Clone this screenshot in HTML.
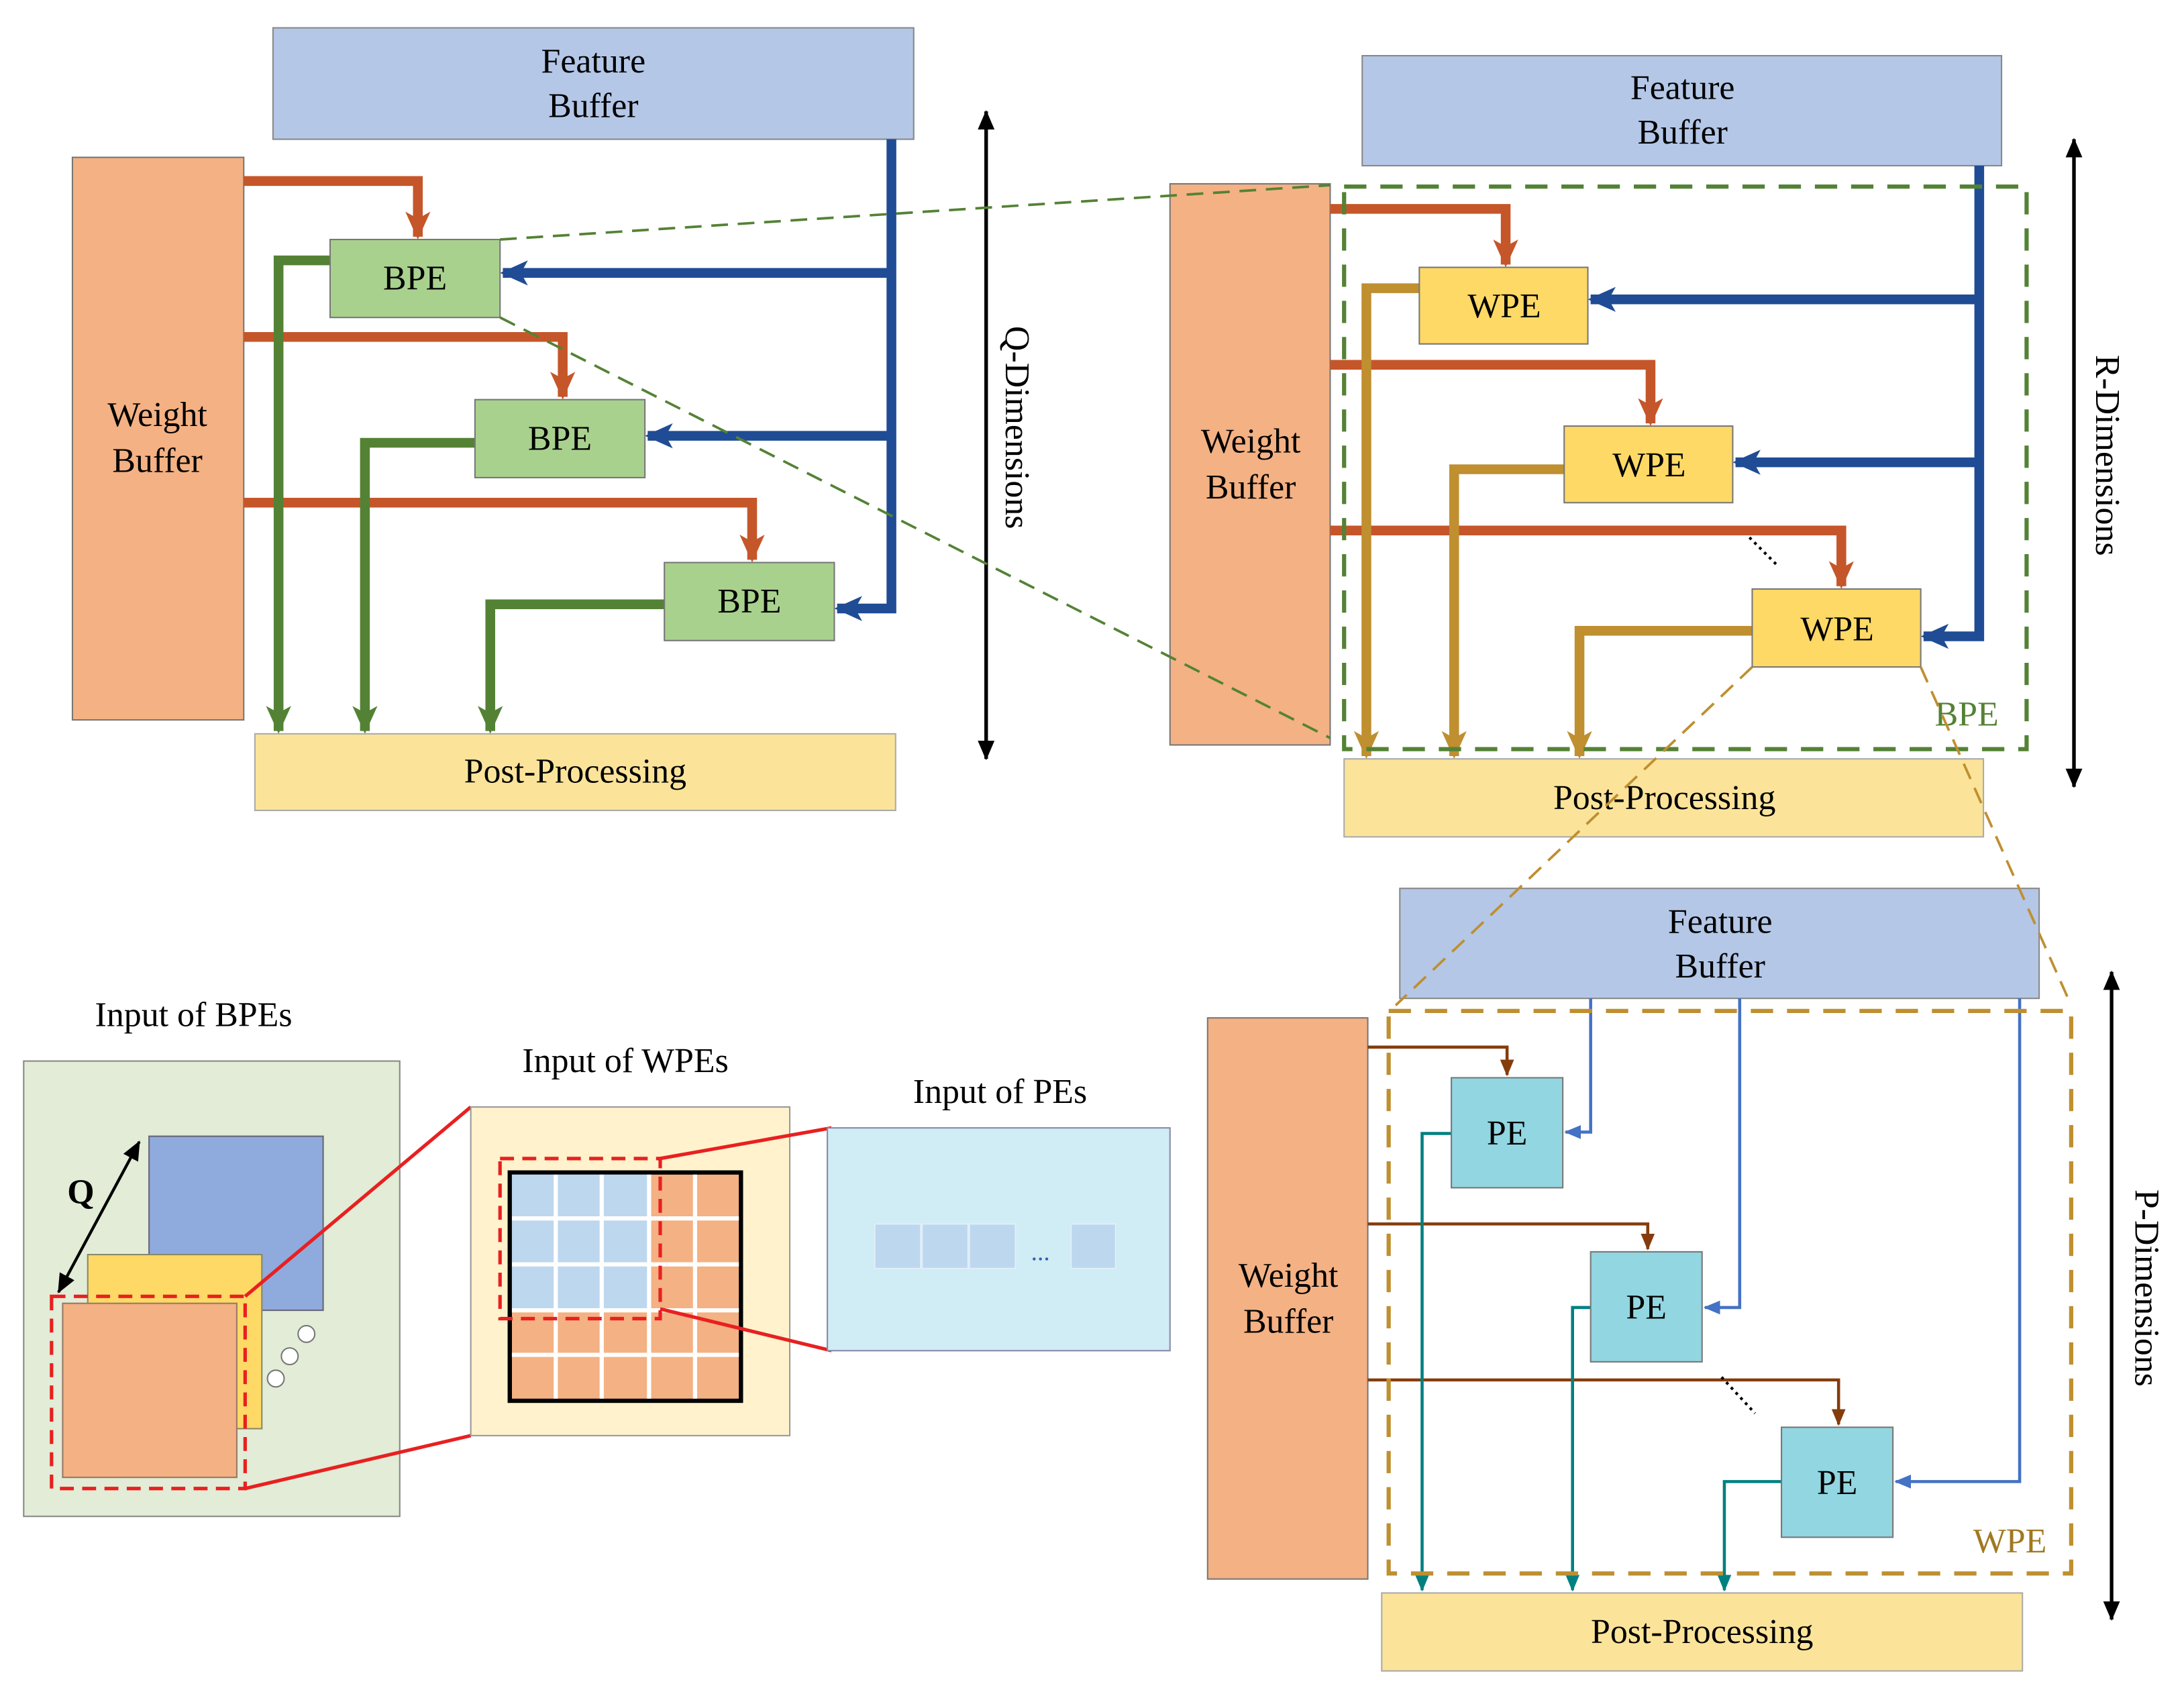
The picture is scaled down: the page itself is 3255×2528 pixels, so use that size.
<!DOCTYPE html>
<html><head><meta charset="utf-8"><style>html,body{margin:0;padding:0;background:#fff}svg{display:block}svg text{font-family:"Liberation Serif","DejaVu Serif",serif}</style></head>
<body>
<svg width="3255" height="2528" viewBox="0 0 1568 1218" preserveAspectRatio="none" xmlns="http://www.w3.org/2000/svg" style="font-family:'Liberation Serif',serif" font-size="25">
<defs>
<marker id="ao" markerUnits="userSpaceOnUse" markerWidth="20" markerHeight="20" refX="18" refY="10" orient="auto"><path d="M0,1 L20,10 L0,19 L5,10z" fill="#c5562a"/></marker>
<marker id="ab" markerUnits="userSpaceOnUse" markerWidth="20" markerHeight="20" refX="18" refY="10" orient="auto"><path d="M0,1 L20,10 L0,19 L5,10z" fill="#1f4c94"/></marker>
<marker id="ag" markerUnits="userSpaceOnUse" markerWidth="20" markerHeight="20" refX="18" refY="10" orient="auto"><path d="M0,1 L20,10 L0,19 L5,10z" fill="#548235"/></marker>
<marker id="ay" markerUnits="userSpaceOnUse" markerWidth="20" markerHeight="20" refX="18" refY="10" orient="auto"><path d="M0,1 L20,10 L0,19 L5,10z" fill="#bf8f30"/></marker>
<marker id="ar" markerUnits="userSpaceOnUse" markerWidth="12" markerHeight="12" refX="11" refY="6" orient="auto"><path d="M0,1 L12,6 L0,11z" fill="#843c0c"/></marker>
<marker id="al" markerUnits="userSpaceOnUse" markerWidth="12" markerHeight="12" refX="11" refY="6" orient="auto"><path d="M0,1 L12,6 L0,11z" fill="#4472c4"/></marker>
<marker id="at" markerUnits="userSpaceOnUse" markerWidth="12" markerHeight="12" refX="11" refY="6" orient="auto"><path d="M0,1 L12,6 L0,11z" fill="#008080"/></marker>
<marker id="ak" markerUnits="userSpaceOnUse" markerWidth="14" markerHeight="14" refX="13" refY="7" orient="auto"><path d="M0,1 L14,7 L0,13z" fill="#000"/></marker>
</defs>

<!-- ===== Top-left ===== -->
<rect x="196" y="20" width="460" height="80" fill="#b4c7e7" stroke="#888" stroke-width="1"/>
<text x="426" y="52" text-anchor="middle">Feature</text><text x="426" y="84" text-anchor="middle">Buffer</text>
<rect x="52" y="113" width="123" height="404" fill="#f4b183" stroke="#777" stroke-width="1"/>
<text x="113" y="306" text-anchor="middle">Weight</text><text x="113" y="339" text-anchor="middle">Buffer</text>
<rect x="183" y="527" width="460" height="55" fill="#fbe49a" stroke="#aaa" stroke-width="1"/>
<text x="413" y="562" text-anchor="middle">Post-Processing</text>
<g fill="none" stroke-width="7">
<path d="M175,130 H300 V170" stroke="#c5562a" marker-end="url(#ao)"/>
<path d="M175,242 H404 V285" stroke="#c5562a" marker-end="url(#ao)"/>
<path d="M175,361 H540 V402" stroke="#c5562a" marker-end="url(#ao)"/>
<path d="M640,100 V437 H601" stroke="#1f4c94" marker-end="url(#ab)"/>
<path d="M640,196 H361" stroke="#1f4c94" marker-end="url(#ab)"/>
<path d="M640,313 H465" stroke="#1f4c94" marker-end="url(#ab)"/>
<path d="M237,187 H200 V525" stroke="#548235" marker-end="url(#ag)"/>
<path d="M341,318 H262 V525" stroke="#548235" marker-end="url(#ag)"/>
<path d="M477,434 H352 V525" stroke="#548235" marker-end="url(#ag)"/>
</g>
<rect x="237" y="172" width="122" height="56" fill="#a9d18e" stroke="#777"/>
<text x="298" y="208" text-anchor="middle">BPE</text>
<rect x="341" y="287" width="122" height="56" fill="#a9d18e" stroke="#777"/>
<text x="402" y="323" text-anchor="middle">BPE</text>
<rect x="477" y="404" width="122" height="56" fill="#a9d18e" stroke="#777"/>
<text x="538" y="440" text-anchor="middle">BPE</text>
<path d="M708,80 V545" stroke="#000" stroke-width="2.5" marker-end="url(#ak)"/>
<path d="M708,545 V80" stroke="#000" stroke-width="2.5" marker-end="url(#ak)" fill="none"/>
<text transform="translate(722,307) rotate(90)" text-anchor="middle">Q-Dimensions</text>

<!-- ===== Top-right ===== -->
<rect x="978" y="40" width="459" height="79" fill="#b4c7e7" stroke="#888"/>
<text x="1208" y="71" text-anchor="middle">Feature</text><text x="1208" y="103" text-anchor="middle">Buffer</text>
<rect x="840" y="132" width="115" height="403" fill="#f4b183" stroke="#777"/>
<text x="898" y="325" text-anchor="middle">Weight</text><text x="898" y="358" text-anchor="middle">Buffer</text>
<rect x="965" y="545" width="459" height="56" fill="#fbe49a" stroke="#aaa"/>
<text x="1195" y="581" text-anchor="middle">Post-Processing</text>
<g fill="none" stroke-width="7">
<path d="M955,150 H1081 V190" stroke="#c5562a" marker-end="url(#ao)"/>
<path d="M955,262 H1185 V304" stroke="#c5562a" marker-end="url(#ao)"/>
<path d="M955,381 H1322 V421" stroke="#c5562a" marker-end="url(#ao)"/>
<path d="M1421,119 V457 H1381" stroke="#1f4c94" marker-end="url(#ab)"/>
<path d="M1421,215 H1142" stroke="#1f4c94" marker-end="url(#ab)"/>
<path d="M1421,332 H1246" stroke="#1f4c94" marker-end="url(#ab)"/>
<path d="M1019,207 H981 V543" stroke="#bf8f30" marker-end="url(#ay)"/>
<path d="M1123,337 H1044 V543" stroke="#bf8f30" marker-end="url(#ay)"/>
<path d="M1258,453 H1134 V543" stroke="#bf8f30" marker-end="url(#ay)"/>
</g>
<rect x="1019" y="192" width="121" height="55" fill="#ffd966" stroke="#777"/>
<text x="1080" y="228" text-anchor="middle">WPE</text>
<rect x="1123" y="306" width="121" height="55" fill="#ffd966" stroke="#777"/>
<text x="1184" y="342" text-anchor="middle">WPE</text>
<rect x="1258" y="423" width="121" height="56" fill="#ffd966" stroke="#777"/>
<text x="1319" y="460" text-anchor="middle">WPE</text>
<path d="M1256,386 L1276,406" stroke="#000" stroke-width="2" stroke-dasharray="2,3"/>
<rect x="965" y="134" width="490" height="404" fill="none" stroke="#548235" stroke-width="3" stroke-dasharray="16,10"/>
<text x="1412" y="521" text-anchor="middle" fill="#548235">BPE</text>
<path d="M1489,100 V565" stroke="#000" stroke-width="2.5" marker-end="url(#ak)"/>
<path d="M1489,565 V100" stroke="#000" stroke-width="2.5" marker-end="url(#ak)"/>
<text transform="translate(1505,327) rotate(90)" text-anchor="middle">R-Dimensions</text>

<!-- ===== Bottom-right ===== -->
<rect x="1005" y="638" width="459" height="79" fill="#b4c7e7" stroke="#888"/>
<text x="1235" y="670" text-anchor="middle">Feature</text><text x="1235" y="702" text-anchor="middle">Buffer</text>
<rect x="867" y="731" width="115" height="403" fill="#f4b183" stroke="#777"/>
<text x="925" y="924" text-anchor="middle">Weight</text><text x="925" y="957" text-anchor="middle">Buffer</text>
<rect x="992" y="1144" width="460" height="56" fill="#fbe49a" stroke="#aaa"/>
<text x="1222" y="1180" text-anchor="middle">Post-Processing</text>
<g fill="none" stroke-width="2.2">
<path d="M982,752 H1082 V772" stroke="#843c0c" marker-end="url(#ar)"/>
<path d="M982,879 H1183 V897" stroke="#843c0c" marker-end="url(#ar)"/>
<path d="M982,991 H1320 V1023" stroke="#843c0c" marker-end="url(#ar)"/>
<path d="M1142,717 V813 H1124" stroke="#4472c4" marker-end="url(#al)"/>
<path d="M1249,717 V939 H1224" stroke="#4472c4" marker-end="url(#al)"/>
<path d="M1450,717 V1064 H1361" stroke="#4472c4" marker-end="url(#al)"/>
<path d="M1042,814 H1021 V1142" stroke="#008080" marker-end="url(#at)"/>
<path d="M1142,939 H1129 V1142" stroke="#008080" marker-end="url(#at)"/>
<path d="M1279,1064 H1238 V1142" stroke="#008080" marker-end="url(#at)"/>
</g>
<rect x="1042" y="774" width="80" height="79" fill="#92d6e1" stroke="#777"/>
<text x="1082" y="822" text-anchor="middle">PE</text>
<rect x="1142" y="899" width="80" height="79" fill="#92d6e1" stroke="#777"/>
<text x="1182" y="947" text-anchor="middle">PE</text>
<rect x="1279" y="1025" width="80" height="79" fill="#92d6e1" stroke="#777"/>
<text x="1319" y="1073" text-anchor="middle">PE</text>
<path d="M1236,989 L1260,1015" stroke="#000" stroke-width="2" stroke-dasharray="2,3"/>
<rect x="997" y="726" width="490" height="404" fill="none" stroke="#bf8f30" stroke-width="3" stroke-dasharray="16,10"/>
<text x="1443" y="1115" text-anchor="middle" fill="#a0781f">WPE</text>
<path d="M1516,698 V1163" stroke="#000" stroke-width="2.5" marker-end="url(#ak)"/>
<path d="M1516,1163 V698" stroke="#000" stroke-width="2.5" marker-end="url(#ak)"/>
<text transform="translate(1533,925) rotate(90)" text-anchor="middle">P-Dimensions</text>

<!-- zoom connector lines on top -->
<g stroke="#548235" stroke-width="1.8" stroke-dasharray="12,7" fill="none">
<path d="M359,172 L955,133"/><path d="M359,228 L955,530"/>
</g>
<g stroke="#bf8f30" stroke-width="1.8" stroke-dasharray="12,7" fill="none">
<path d="M1258,479 L1002,722"/><path d="M1379,479 L1487,722"/>
</g>

<!-- ===== Bottom-left ===== -->
<text x="139" y="737" text-anchor="middle">Input of BPEs</text>
<rect x="17" y="762" width="270" height="327" fill="#e2ecd6" stroke="#888"/>
<rect x="107" y="816" width="125" height="125" fill="#8faadc" stroke="#667"/>
<rect x="63" y="901" width="125" height="125" fill="#ffd966" stroke="#886"/>
<rect x="45" y="936" width="125" height="125" fill="#f4b183" stroke="#976"/>
<circle cx="220" cy="958" r="6" fill="#fff" stroke="#777"/>
<circle cx="208" cy="974" r="6" fill="#fff" stroke="#777"/>
<circle cx="198" cy="990" r="6" fill="#fff" stroke="#777"/>
<rect x="37" y="931" width="139" height="138" fill="none" stroke="#e82020" stroke-width="2.5" stroke-dasharray="10,6"/>
<path d="M42,928 L100,820" stroke="#000" stroke-width="2" marker-end="url(#ak)"/>
<path d="M100,820 L42,928" stroke="#000" stroke-width="2" marker-end="url(#ak)"/>
<text x="58" y="864" text-anchor="middle" font-weight="bold">Q</text>
<path d="M176,931 L338,795 M176,1069 L338,1031" stroke="#e82020" stroke-width="2.5"/>

<text x="449" y="770" text-anchor="middle">Input of WPEs</text>
<rect x="338" y="795" width="229" height="236" fill="#fff2cc" stroke="#999"/>
<rect x="366" y="842" width="166" height="164" fill="#f4b183" stroke="#000" stroke-width="3"/>
<rect x="366" y="842" width="99" height="98" fill="#bdd7ee"/>
<g stroke="#fff" stroke-width="3">
<path d="M399,843 V1005 M432,843 V1005 M466,843 V1005 M499,843 V1005"/>
<path d="M367,875 H531 M367,908 H531 M367,941 H531 M367,973 H531"/>
</g>
<rect x="366" y="842" width="166" height="164" fill="none" stroke="#000" stroke-width="3"/>
<rect x="359" y="832" width="115" height="115" fill="none" stroke="#e82020" stroke-width="2.5" stroke-dasharray="10,6"/>
<path d="M474,832 L597,810 M474,940 L597,970" stroke="#e82020" stroke-width="2.5"/>

<text x="718" y="792" text-anchor="middle">Input of PEs</text>
<rect x="594" y="810" width="246" height="160" fill="#d0ecf4" stroke="#88a"/>
<g fill="#bdd7ee" stroke="#e0eef8" stroke-width="1">
<rect x="628" y="879" width="33" height="32"/><rect x="662" y="879" width="33" height="32"/><rect x="696" y="879" width="33" height="32"/><rect x="769" y="879" width="32" height="32"/>
</g>
<text x="747" y="905" text-anchor="middle" fill="#2f5fb0" font-size="18">...</text>
</svg>
</body></html>
